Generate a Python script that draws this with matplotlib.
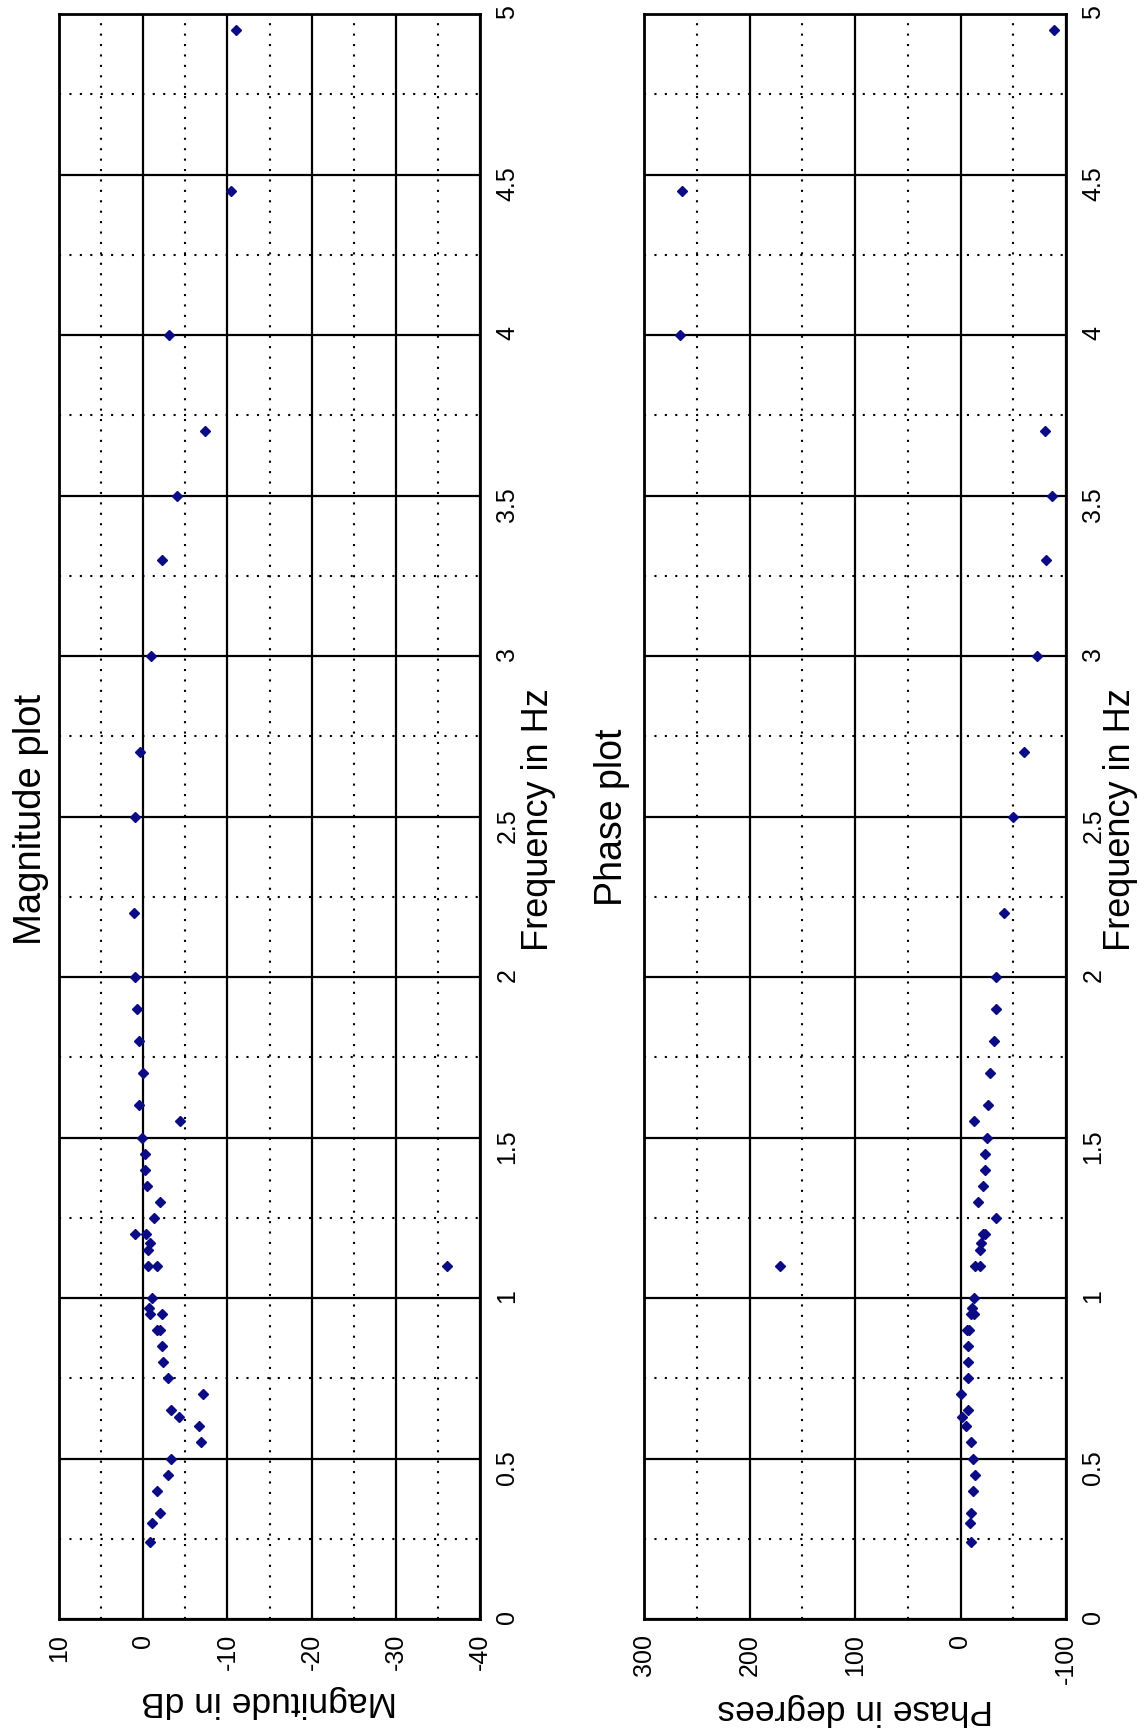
import matplotlib
matplotlib.use("Agg")
import matplotlib.pyplot as plt
from matplotlib.ticker import MultipleLocator

# measured points (frequency in Hz, magnitude in dB, phase in degrees)
freq = [0.24, 0.30, 0.33, 0.40, 0.45, 0.50, 0.55, 0.60, 0.63, 0.65,
        0.70, 0.75, 0.80, 0.85, 0.90, 0.90, 0.95, 0.95, 0.97, 1.00,
        1.10, 1.10, 1.10, 1.15, 1.17, 1.20, 1.20, 1.25, 1.30, 1.35,
        1.40, 1.45, 1.50, 1.55, 1.60, 1.70, 1.80, 1.90, 2.00, 2.20,
        2.50, 2.70, 3.00, 3.30, 3.50, 3.70, 4.00, 4.45, 4.95]
mag_db = [-0.8, -1.1, -2.0, -1.6, -2.9, -3.3, -6.9, -6.6, -4.2, -3.3,
          -7.1, -2.9, -2.4, -2.2, -1.6, -2.0, -0.8, -2.2, -0.7, -1.0,
          -0.6, -1.6, -36.1, -0.6, -0.8, 1.0, -0.3, -1.3, -2.0, -0.4,
          -0.2, -0.2, 0.1, -4.4, 0.5, 0.0, 0.5, 0.7, 0.95, 1.15,
          0.95, 0.4, -0.9, -2.2, -4.0, -7.3, -3.1, -10.4, -11.0]
phase_deg = [-10.4, -9.4, -10.4, -12.0, -14.2, -12.0, -10.4, -5.3, -1.6, -7.2,
             0.0, -7.2, -7.2, -7.2, -5.7, -7.9, -9.7, -12.6, -11.0, -12.6,
             -14.2, -18.2, 171.4, -18.2, -19.5, -21.0, -23.0, -34.0, -16.4, -21.4,
             -23.6, -23.6, -25.2, -12.6, -26.5, -28.4, -32.2, -34.1, -34.1, -41.0,
             -49.9, -60.0, -72.6, -81.5, -86.9, -79.9, 266.0, 263.7, -88.4]

freq_ticks = [0, 0.5, 1, 1.5, 2, 2.5, 3, 3.5, 4, 4.5, 5]
freq_labels = ["0", "0.5", "1", "1.5", "2", "2.5", "3", "3.5", "4", "4.5", "5"]
mag_ticks = [10, 0, -10, -20, -30, -40]
phase_ticks = [300, 200, 100, 0, -100]

plt.rcParams['font.family'] = ['Liberation Sans', 'DejaVu Sans']

W, H = 1148, 1733
fig = plt.figure(figsize=(W / 100, H / 100), dpi=100)
fig.patch.set_facecolor("white")


def make_axes(left, right, top=15, bottom=1620):
    return fig.add_axes([left / W, 1 - bottom / H, (right - left) / W, (bottom - top) / H])


def style_panel(ax, values, vticks, vlim, vminor):
    ax.plot(values, freq, linestyle="none", marker="D", markersize=5,
            color="#0b0b85", zorder=3)
    ax.set_xlim(*vlim)
    ax.set_ylim(0, 5)
    ax.set_xticks(vticks)
    ax.set_xticklabels([str(v) for v in vticks])
    ax.xaxis.set_minor_locator(MultipleLocator(vminor))
    ax.set_yticks(freq_ticks)
    ax.set_yticklabels(freq_labels)
    ax.yaxis.set_minor_locator(MultipleLocator(0.25))
    ax.yaxis.tick_right()
    ax.grid(which="major", color="black", linewidth=1.6, linestyle="-")
    ax.grid(which="minor", color="black", linewidth=1.5, linestyle=(0, (1, 4)))
    ax.set_axisbelow(True)
    ax.tick_params(axis="both", which="both", length=0)
    ax.tick_params(axis="x", labelrotation=90, pad=10, labelsize=18)
    ax.tick_params(axis="y", labelrotation=90, pad=11, labelsize=18)
    for side in ax.spines.values():
        side.set_linewidth(2)
        side.set_color("black")


ax1 = make_axes(59, 480)
style_panel(ax1, mag_db, mag_ticks, (10, -40), 5)

ax2 = make_axes(644, 1066)
style_panel(ax2, phase_deg, phase_ticks, (300, -100), 50)


def fig_text(x, y, s, size, rot):
    fig.text(x / W, 1 - y / H, s, fontsize=size, rotation=rot,
             ha="center", va="center")


fig_text(31, 819, "Magnitude plot", 27.5, 90)
fig_text(538, 820, "Frequency in Hz", 26, 90)
fig_text(269, 1702, "Magnitude in dB", 25.5, 180)

fig_text(612, 817, "Phase plot", 27, 90)
fig_text(1121, 820, "Frequency in Hz", 26, 90)
fig_text(855, 1710, "Phase in degrees", 25.5, 180)

fig.savefig("out.png", dpi=100)
